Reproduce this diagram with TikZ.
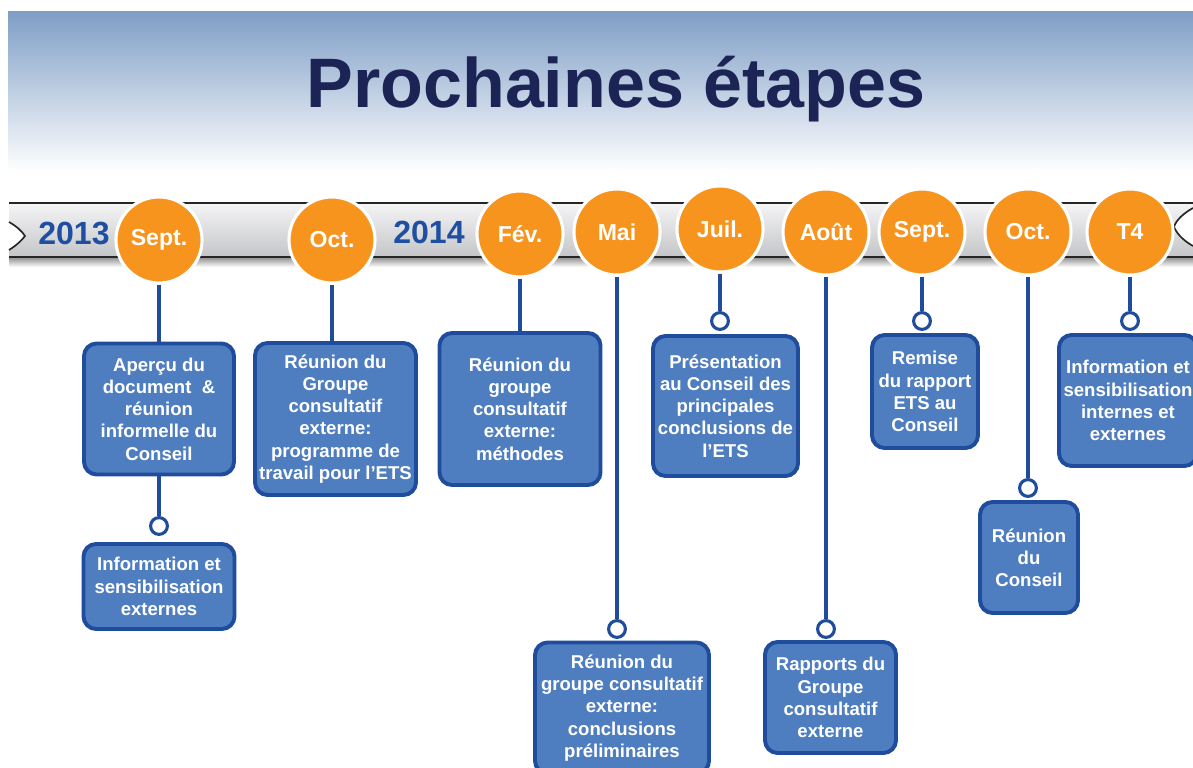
\documentclass[tikz,border=0pt]{standalone}
\usepackage{fontspec}
\setmainfont{Liberation Sans}
\usetikzlibrary{positioning}

\definecolor{bandeHaut}{HTML}{7F9EC6}
\definecolor{titreBleu}{HTML}{1B2455}
\definecolor{anneeBleu}{HTML}{1E4FA0}
\definecolor{barreHaut}{HTML}{F5F5F6}
\definecolor{barreBas}{HTML}{C4C5C8}
\definecolor{orangeMois}{HTML}{F7941E}
\definecolor{bleuBoite}{HTML}{4F7EC0}
\definecolor{bleuTrait}{HTML}{1F4C9C}

\begin{document}
\begin{tikzpicture}[
    x=0.025cm, y=-0.025cm,
    mois/.style={
        circle,
        fill=orangeMois,
        draw=white,
        line width=2.2pt,
        minimum size=2.15cm,
        inner sep=0pt,
        text=white,
        font=\fontsize{16.4}{18}\selectfont\bfseries
    },
    etape/.style={
        draw=bleuTrait,
        fill=bleuBoite,
        line width=2.8pt,
        rounded corners=9pt,
        text=white,
        align=center,
        inner sep=0pt,
        font=\fontsize{13.2}{15.8}\selectfont\bfseries
    },
    taille/.style 2 args={
        minimum width=#1*0.025cm,
        minimum height=#2*0.025cm
    },
    jalon/.style={
        circle,
        draw=bleuTrait,
        fill=white,
        line width=2.2pt,
        minimum size=0.42cm,
        inner sep=0pt
    },
    lien/.style={draw=bleuTrait, line width=2.5pt},
    annee/.style={text=anneeBleu, font=\fontsize{22.8}{26}\selectfont\bfseries, inner sep=0pt}
]

\clip (0,0) rectangle (1193,768);

% bandeau du titre
\shade[top color=bandeHaut, bottom color=white] (8,12) rectangle (1193,172);
\node[anchor=base, text=titreBleu, inner sep=0pt,
      font=\fontsize{49.8}{56}\selectfont\bfseries] (titre) at (616,108) {Prochaines étapes};

% ruban du calendrier
\shade[top color=black!45, bottom color=white] (9,257) rectangle (1193,267);
\shade[top color=barreHaut, bottom color=barreBas]
    (9,203) -- (1193,203) -- (1193,208)
    .. controls (1184,213) and (1176,220) .. (1174,227)
    .. controls (1178,236) and (1186,242) .. (1193,246)
    -- (1193,257) -- (9,257) -- (9,250)
    .. controls (17,245) and (22,240) .. (25,236)
    .. controls (22,231) and (16,226) .. (9,222) -- cycle;
\draw[line width=1.5pt, black!85] (9,203) -- (1193,203);
\draw[line width=1.5pt, black!85] (9,257) -- (1193,257);
\draw[line width=1.2pt, black!85] (9,250) .. controls (17,245) and (22,240) .. (25,236)
    .. controls (22,231) and (16,226) .. (9,222);
\draw[line width=1.2pt, black!85] (1193,208) .. controls (1184,213) and (1176,220) .. (1174,227)
    .. controls (1178,236) and (1186,242) .. (1193,246);

\node[annee, anchor=base] (annee13) at (74,245) {2013};
\node[annee, anchor=base] (annee14) at (429,244) {2014};

% mois
\node[mois] (mSeptA) at (159,240) {Sept.};
\node[mois] (mOctA) at (332,240) {Oct.};
\node[mois] (mFev) at (520,234) {Fév.};
\node[mois] (mMai) at (617,232) {Mai};
\node[mois] (mJuil) at (720,229) {Juil.};
\node[mois] (mAout) at (826,232) {Août};
\node[mois] (mSeptB) at (922,232) {Sept.};
\node[mois] (mOctB) at (1028,232) {Oct.};
\node[mois] (mTquatre) at (1130,232) {T4};

% etapes
\node[etape, taille={150}{131}] (eApercu) at (159,409)
{Aperçu du\\document~~\&\\réunion\\informelle du\\Conseil};
\node[etape, taille={151}{85}] (eInfoExt) at (159,586.5)
{Information et\\sensibilisation\\externes};
\node[etape, taille={161}{152}] (eProgramme) at (335.5,419)
{Réunion du\\Groupe\\consultatif\\externe:\\programme de\\travail pour l’ETS};
\node[etape, taille={161}{152}] (eMethodes) at (520,409)
{Réunion du\\groupe\\consultatif\\externe:\\méthodes};
\node[etape, taille={174}{131}] (ePrelim) at (622,708)
{Réunion du\\groupe consultatif\\externe:\\conclusions\\préliminaires};
\node[etape, taille={145}{140}] (ePresentation) at (725.5,406)
{Présentation\\au Conseil des\\principales\\conclusions de\\l’ETS};
\node[etape, taille={131}{111}] (eRapports) at (830.5,697.5)
{Rapports du\\Groupe\\consultatif\\externe};
\node[etape, taille={106}{113}] (eRemise) at (925,391.5)
{Remise\\du rapport\\ETS au\\Conseil};
\node[etape, taille={98}{111}] (eReunion) at (1029,557.5)
{Réunion\\du\\Conseil};
\node[etape, taille={138}{131}] (eInfoInt) at (1128,400.5)
{Information et\\sensibilisation\\internes et\\externes};

% jalons
\node[jalon] (pInfoExt) at (159,526) {};
\node[jalon] (pPrelim) at (617,629) {};
\node[jalon] (pPresentation) at (720,321) {};
\node[jalon] (pRapports) at (826,629) {};
\node[jalon] (pRemise) at (922,321) {};
\node[jalon] (pReunion) at (1028,488) {};
\node[jalon] (pInfoInt) at (1130,321) {};

% liens
\draw[lien] (mSeptA.south) -- (mSeptA.south |- eApercu.north);
\draw[lien] (eApercu.south) -- (pInfoExt.north);
\draw[lien] (mOctA.south) -- (mOctA.south |- eProgramme.north);
\draw[lien] (mFev.south) -- (mFev.south |- eMethodes.north);
\draw[lien] (mMai.south) -- (pPrelim.north);
\draw[lien] (mJuil.south) -- (pPresentation.north);
\draw[lien] (mAout.south) -- (pRapports.north);
\draw[lien] (mSeptB.south) -- (pRemise.north);
\draw[lien] (mOctB.south) -- (pReunion.north);
\draw[lien] (mTquatre.south) -- (pInfoInt.north);

\end{tikzpicture}
\end{document}
